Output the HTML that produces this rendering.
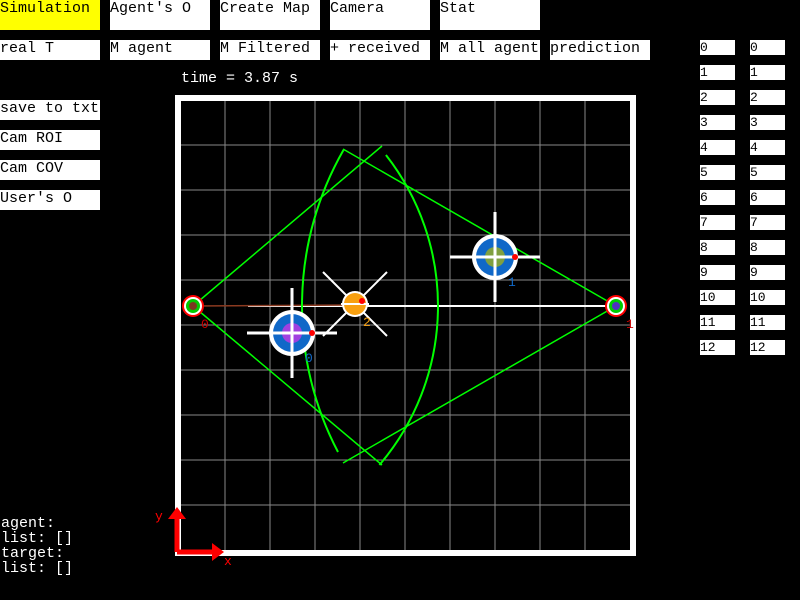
<!DOCTYPE html>
<html><head><meta charset="utf-8"><style>
html,body{margin:0;padding:0;background:#000;width:800px;height:600px;overflow:hidden}
body{position:relative;font-family:"Liberation Mono","DejaVu Sans Mono",monospace;font-size:15px}
.btn{position:absolute;background:#fff;color:#000;line-height:17px;padding-left:0;box-sizing:border-box;white-space:nowrap;overflow:hidden}
.txt{position:absolute;color:#fff;line-height:15px;white-space:pre}
svg{position:absolute;left:0;top:0}
</style></head><body>
<div class="btn" style="left:0;top:0;width:100px;height:30px;background:#ff0">Simulation</div>
<div class="btn" style="left:110px;top:0;width:100px;height:30px">Agent's O</div>
<div class="btn" style="left:220px;top:0;width:100px;height:30px">Create Map</div>
<div class="btn" style="left:330px;top:0;width:100px;height:30px">Camera</div>
<div class="btn" style="left:440px;top:0;width:100px;height:30px">Stat</div>
<div class="btn" style="left:0;top:40px;width:100px;height:20px">real T</div>
<div class="btn" style="left:110px;top:40px;width:100px;height:20px">M agent</div>
<div class="btn" style="left:220px;top:40px;width:100px;height:20px">M Filtered</div>
<div class="btn" style="left:330px;top:40px;width:100px;height:20px">+ received</div>
<div class="btn" style="left:440px;top:40px;width:100px;height:20px">M all agent</div>
<div class="btn" style="left:550px;top:40px;width:100px;height:20px">prediction</div>
<div class="btn" style="left:0;top:100px;width:100px;height:20px">save to txt</div>
<div class="btn" style="left:0;top:130px;width:100px;height:20px">Cam ROI</div>
<div class="btn" style="left:0;top:160px;width:100px;height:20px">Cam COV</div>
<div class="btn" style="left:0;top:190px;width:100px;height:20px">User's O</div>
<div class="txt" style="left:181px;top:71px">time = 3.87 s</div>
<div class="txt" style="left:1px;top:516px">agent:
list: []
target:
list: []</div>
<div id="lists"></div>
<svg id="chart" width="800" height="600"></svg>
<script>
var listIds=[0,1,2,3,4,5,6,7,8,9,10,11,12];
var cameraX=[193,616];var cameraY=[306,306];
var camRayEnd=[[382,146,382,465],[343,149,343,463]];
var arcStartY=[155,150];var arcEndY=[465,452];
var arcRadius=[245,314];
var agentX=[292,495];var agentY=[333,257];var agentInner=['#a040e0','#80a040'];
var targetX=[355];var targetY=[304];
var NS='http://www.w3.org/2000/svg';
var L=document.getElementById('lists');
listIds.forEach(function(v,i){
 [700,750].forEach(function(x,j){
  var d=document.createElement('div');d.className='btn';
  d.style.cssText='left:'+x+'px;top:'+(40+25*i)+'px;width:35px;height:15px;line-height:15px;font-size:13px';
  d.textContent=v;
  
  
  L.appendChild(d);
 });
});
var S=document.getElementById('chart');
function el(t,a,p){var e=document.createElementNS(NS,t);for(var k in a)e.setAttribute(k,a[k]);(p||S).appendChild(e);return e;}
var r=el('rect',{x:178,y:98,width:455,height:455,fill:'none',stroke:'#fff','stroke-width':6});


for(var i=1;i<10;i++){
 var g1=el('line',{x1:180+45*i,y1:101,x2:180+45*i,y2:550,stroke:'#888','stroke-width':1});
 
 
 var g2=el('line',{x1:181,y1:100+45*i,x2:630,y2:100+45*i,stroke:'#888','stroke-width':1});
 
 
}
el('line',{x1:248,y1:306,x2:616,y2:306,stroke:'#fff','stroke-width':2});
var br=el('line',{x1:cameraX[0],y1:306,x2:targetX[0],y2:305,stroke:'#8b3a20','stroke-width':1.5});


cameraX.forEach(function(cx,i){
 var cy=cameraY[i],e=camRayEnd[i];
 el('line',{x1:cx,y1:cy,x2:e[0],y2:e[1],stroke:'#0f0','stroke-width':1.5});
 el('line',{x1:cx,y1:cy,x2:e[2],y2:e[3],stroke:'#0f0','stroke-width':1.5});
 var R=arcRadius[i],y0=arcStartY[i],y1=arcEndY[i],sgn=i===0?1:-1;
 var x0=cx+sgn*Math.sqrt(R*R-(y0-cy)*(y0-cy)),x1=cx+sgn*Math.sqrt(R*R-(y1-cy)*(y1-cy));
 var a=el('path',{d:'M'+x0+' '+y0+' A'+R+' '+R+' 0 0 '+(i===0?1:0)+' '+x1+' '+y1,fill:'none',stroke:'#0f0','stroke-width':2});
 
 
 var c=el('circle',{cx:cx,cy:cy,r:11,fill:'#f00'});
 
 
 el('circle',{cx:cx,cy:cy,r:9,fill:'#fff'});
 el('circle',{cx:cx,cy:cy,r:7,fill:'#0c0'});
 el('circle',{cx:cx,cy:cy,r:4,fill:i?'#5030c0':'#7a3a20'});
 el('text',{x:cx+(i?10:8),y:cy+22,fill:'#c00','font-size':13,'font-family':'Liberation Mono,monospace'}).textContent=i;
});
agentX.forEach(function(ax,i){
 var ay=agentY[i];
 var c=el('circle',{cx:ax,cy:ay,r:23,fill:'#fff'});
 
 
 el('circle',{cx:ax,cy:ay,r:19,fill:'#1068c8'});
 el('circle',{cx:ax,cy:ay,r:10,fill:agentInner[i]});
 el('line',{x1:ax-45,y1:ay,x2:ax+45,y2:ay,stroke:'#fff','stroke-width':3});
 el('line',{x1:ax,y1:ay-45,x2:ax,y2:ay+45,stroke:'#fff','stroke-width':3});
 el('circle',{cx:ax+20,cy:ay,r:3,fill:'#f00'});
 el('text',{x:ax+13,y:ay+29,fill:'#1068c8','font-size':13,'font-family':'Liberation Mono,monospace'}).textContent=i;
});
targetX.forEach(function(tx,i){
 var ty=targetY[i];
 el('line',{x1:tx-32,y1:ty-32,x2:tx+32,y2:ty+32,stroke:'#fff','stroke-width':2});
 el('line',{x1:tx-32,y1:ty+32,x2:tx+32,y2:ty-32,stroke:'#fff','stroke-width':2});
 var c=el('circle',{cx:tx,cy:ty,r:13,fill:'#fff'});
 
 
 el('circle',{cx:tx,cy:ty,r:11,fill:'#f8a010'});
 el('line',{x1:tx-14,y1:ty,x2:tx+14,y2:ty,stroke:'#fff','stroke-width':2});
 el('circle',{cx:tx+7,cy:ty-3,r:3,fill:'#f00'});
 el('text',{x:tx+8,y:ty+22,fill:'#f8a010','font-size':13,'font-family':'Liberation Mono,monospace'}).textContent='2';
});
var ax=el('g',{});
el('line',{x1:177,y1:552,x2:215,y2:552,stroke:'#f00','stroke-width':5},ax);
el('line',{x1:177,y1:552,x2:177,y2:514,stroke:'#f00','stroke-width':5},ax);
el('polygon',{points:'212,543 224,552 212,561',fill:'#f00'},ax);
el('polygon',{points:'168,519 177,507 186,519',fill:'#f00'},ax);
el('text',{x:224,y:565,fill:'#f00','font-size':13,'font-family':'Liberation Mono,monospace'},ax).textContent='x';
el('text',{x:155,y:520,fill:'#f00','font-size':13,'font-family':'Liberation Mono,monospace'},ax).textContent='y';
</script>
</body></html>
